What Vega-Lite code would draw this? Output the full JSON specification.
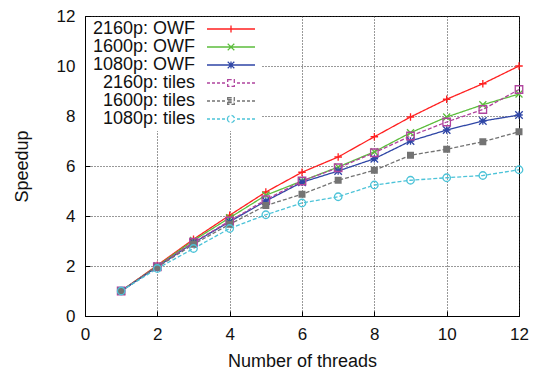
{
  "$schema": "https://vega.github.io/schema/vega-lite/v6.json",
  "width": 434,
  "height": 300,
  "autosize": {"type": "none"},
  "padding": {"left": 85, "top": 16, "right": 20, "bottom": 55},
  "config": {
    "font": "Liberation Sans",
    "view": {"stroke": "#000", "strokeWidth": 1},
    "axis": {
      "domainColor": "#000",
      "grid": true,
      "gridColor": "#333",
      "gridDash": [1, 2],
      "gridWidth": 1,
      "tickColor": "#000",
      "tickSize": -5,
      "labelFont": "Liberation Sans",
      "labelFontSize": 17,
      "labelColor": "#111",
      "labelFlush": false,
      "labelOverlap": false,
      "titleFont": "Liberation Sans",
      "titleFontSize": 18,
      "titleFontWeight": "normal",
      "titleColor": "#111"
    }
  },
  "data": {
    "values": [
      {"t": 1, "s": 1.0, "series": "2160p: OWF"},
      {"t": 2, "s": 2.03, "series": "2160p: OWF"},
      {"t": 3, "s": 3.07, "series": "2160p: OWF"},
      {"t": 4, "s": 4.03, "series": "2160p: OWF"},
      {"t": 5, "s": 4.96, "series": "2160p: OWF"},
      {"t": 6, "s": 5.75, "series": "2160p: OWF"},
      {"t": 7, "s": 6.36, "series": "2160p: OWF"},
      {"t": 8, "s": 7.17, "series": "2160p: OWF"},
      {"t": 9, "s": 7.96, "series": "2160p: OWF"},
      {"t": 10, "s": 8.67, "series": "2160p: OWF"},
      {"t": 11, "s": 9.29, "series": "2160p: OWF"},
      {"t": 12, "s": 10.0, "series": "2160p: OWF"},
      {"t": 1, "s": 1.0, "series": "1600p: OWF"},
      {"t": 2, "s": 2.0, "series": "1600p: OWF"},
      {"t": 3, "s": 3.02, "series": "1600p: OWF"},
      {"t": 4, "s": 3.93, "series": "1600p: OWF"},
      {"t": 5, "s": 4.83, "series": "1600p: OWF"},
      {"t": 6, "s": 5.4, "series": "1600p: OWF"},
      {"t": 7, "s": 5.96, "series": "1600p: OWF"},
      {"t": 8, "s": 6.57, "series": "1600p: OWF"},
      {"t": 9, "s": 7.33, "series": "1600p: OWF"},
      {"t": 10, "s": 7.96, "series": "1600p: OWF"},
      {"t": 11, "s": 8.45, "series": "1600p: OWF"},
      {"t": 12, "s": 8.88, "series": "1600p: OWF"},
      {"t": 1, "s": 1.0, "series": "1080p: OWF"},
      {"t": 2, "s": 1.97, "series": "1080p: OWF"},
      {"t": 3, "s": 2.93, "series": "1080p: OWF"},
      {"t": 4, "s": 3.77, "series": "1080p: OWF"},
      {"t": 5, "s": 4.6, "series": "1080p: OWF"},
      {"t": 6, "s": 5.35, "series": "1080p: OWF"},
      {"t": 7, "s": 5.8, "series": "1080p: OWF"},
      {"t": 8, "s": 6.29, "series": "1080p: OWF"},
      {"t": 9, "s": 7.0, "series": "1080p: OWF"},
      {"t": 10, "s": 7.44, "series": "1080p: OWF"},
      {"t": 11, "s": 7.8, "series": "1080p: OWF"},
      {"t": 12, "s": 8.04, "series": "1080p: OWF"},
      {"t": 1, "s": 1.0, "series": "2160p: tiles"},
      {"t": 2, "s": 1.97, "series": "2160p: tiles"},
      {"t": 3, "s": 2.95, "series": "2160p: tiles"},
      {"t": 4, "s": 3.8, "series": "2160p: tiles"},
      {"t": 5, "s": 4.65, "series": "2160p: tiles"},
      {"t": 6, "s": 5.4, "series": "2160p: tiles"},
      {"t": 7, "s": 5.93, "series": "2160p: tiles"},
      {"t": 8, "s": 6.53, "series": "2160p: tiles"},
      {"t": 9, "s": 7.2, "series": "2160p: tiles"},
      {"t": 10, "s": 7.76, "series": "2160p: tiles"},
      {"t": 11, "s": 8.26, "series": "2160p: tiles"},
      {"t": 12, "s": 9.06, "series": "2160p: tiles"},
      {"t": 1, "s": 1.0, "series": "1600p: tiles"},
      {"t": 2, "s": 1.95, "series": "1600p: tiles"},
      {"t": 3, "s": 2.87, "series": "1600p: tiles"},
      {"t": 4, "s": 3.67, "series": "1600p: tiles"},
      {"t": 5, "s": 4.42, "series": "1600p: tiles"},
      {"t": 6, "s": 4.87, "series": "1600p: tiles"},
      {"t": 7, "s": 5.43, "series": "1600p: tiles"},
      {"t": 8, "s": 5.83, "series": "1600p: tiles"},
      {"t": 9, "s": 6.43, "series": "1600p: tiles"},
      {"t": 10, "s": 6.67, "series": "1600p: tiles"},
      {"t": 11, "s": 6.97, "series": "1600p: tiles"},
      {"t": 12, "s": 7.37, "series": "1600p: tiles"},
      {"t": 1, "s": 1.0, "series": "1080p: tiles"},
      {"t": 2, "s": 1.9, "series": "1080p: tiles"},
      {"t": 3, "s": 2.7, "series": "1080p: tiles"},
      {"t": 4, "s": 3.5, "series": "1080p: tiles"},
      {"t": 5, "s": 4.05, "series": "1080p: tiles"},
      {"t": 6, "s": 4.52, "series": "1080p: tiles"},
      {"t": 7, "s": 4.77, "series": "1080p: tiles"},
      {"t": 8, "s": 5.24, "series": "1080p: tiles"},
      {"t": 9, "s": 5.43, "series": "1080p: tiles"},
      {"t": 10, "s": 5.53, "series": "1080p: tiles"},
      {"t": 11, "s": 5.62, "series": "1080p: tiles"},
      {"t": 12, "s": 5.85, "series": "1080p: tiles"}
    ]
  },
  "encoding": {
    "x": {
      "field": "t",
      "type": "quantitative",
      "scale": {"domain": [0, 12], "nice": false},
      "axis": {
        "title": "Number of threads",
        "values": [0, 2, 4, 6, 8, 10, 12],
        "labelPadding": 15,
        "titleY": 45,
        "titleBaseline": "middle"
      }
    },
    "y": {
      "field": "s",
      "type": "quantitative",
      "scale": {"domain": [0, 12], "nice": false},
      "axis": {
        "title": "Speedup",
        "values": [0, 2, 4, 6, 8, 10, 12],
        "labelPadding": 15,
        "titleX": -63,
        "titleY": 150,
        "titleBaseline": "middle"
      }
    },
    "color": {
      "field": "series",
      "type": "nominal",
      "scale": {
        "domain": ["2160p: OWF", "1600p: OWF", "1080p: OWF", "2160p: tiles", "1600p: tiles", "1080p: tiles"],
        "range": ["#ff2020", "#5cbd3c", "#2f46a6", "#b0449e", "#737373", "#4cc3d8"]
      },
      "legend": {
        "title": null,
        "orient": "top-left",
        "offset": 1,
        "padding": 3,
        "rowPadding": 0,
        "fillColor": "white",
        "labelFont": "Liberation Sans",
        "labelFontSize": 18,
        "labelColor": "#111",
        "labelAlign": "right",
        "labelOffset": -45,
        "symbolOffset": 133,
        "symbolSize": 36,
        "symbolStrokeWidth": 1.3,
        "symbolOpacity": 1,
        "symbolFillColor": "transparent"
      }
    }
  },
  "layer": [
    {
      "mark": {"type": "line", "strokeWidth": 1.3},
      "encoding": {
        "strokeDash": {
          "field": "series",
          "type": "nominal",
          "scale": {
            "domain": ["2160p: OWF", "1600p: OWF", "1080p: OWF", "2160p: tiles", "1600p: tiles", "1080p: tiles"],
            "range": [[1, 0], [1, 0], [1, 0], [4, 2], [4, 2], [4, 2]]
          },
          "legend": null
        }
      }
    },
    {
      "mark": {"type": "point", "filled": false, "opacity": 0},
      "encoding": {
        "shape": {
          "field": "series",
          "type": "nominal",
          "scale": {
            "domain": ["2160p: OWF", "1600p: OWF", "1080p: OWF", "2160p: tiles", "1600p: tiles", "1080p: tiles"],
            "range": [
              "M-8,0H8M0,-1.2V1.2",
              "M-8,0H8M-1.1,-1.1L1.1,1.1M-1.1,1.1L1.1,-1.1",
              "M-8,0H8M0,-1.2V1.2M-1.1,-1.1L1.1,1.1M-1.1,1.1L1.1,-1.1",
              "M-8,0H-7M-6.33,0H-5.33M-4.67,0H-3.67M-3,0H-2M2,0H3M3.67,0H4.67M5.33,0H6.33M7,0H8M-1.1,-1.1H1.1V1.1H-1.1Z",
              "M-8,0H-7M-6.33,0H-5.33M-4.67,0H-3.67M-3,0H-2M2,0H3M3.67,0H4.67M5.33,0H6.33M7,0H8M-1.1,-1.1H1.1V1.1H-1.1ZM-1.1,-0.55H1.1M-1.1,0H1.1M-1.1,0.55H1.1",
              "M-8,0H-7M-6.33,0H-5.33M-4.67,0H-3.67M-3,0H-2M2,0H3M3.67,0H4.67M5.33,0H6.33M7,0H8M-1.2,0A1.2,1.2,0,1,0,1.2,0A1.2,1.2,0,1,0,-1.2,0"
            ]
          }
        }
      }
    },
    {
      "transform": [{"filter": "datum.series === '2160p: OWF'"}],
      "mark": {"type": "point", "filled": false, "size": 56, "strokeWidth": 1.3, "opacity": 1, "shape": "M0,-1V1M-1,0H1"}
    },
    {
      "transform": [{"filter": "datum.series === '1600p: OWF'"}],
      "mark": {"type": "point", "filled": false, "size": 49, "strokeWidth": 1.3, "opacity": 1, "shape": "M-1,-1L1,1M-1,1L1,-1"}
    },
    {
      "transform": [{"filter": "datum.series === '1080p: OWF'"}],
      "mark": {"type": "point", "filled": false, "size": 56, "strokeWidth": 1.3, "opacity": 1, "shape": "M0,-1V1M-1,0H1M-1,-1L1,1M-1,1L1,-1"}
    },
    {
      "transform": [{"filter": "datum.series === '2160p: tiles'"}],
      "mark": {"type": "point", "filled": false, "size": 56, "strokeWidth": 1.3, "opacity": 1, "shape": "M-1,-1H1V1H-1Z"}
    },
    {
      "transform": [{"filter": "datum.series === '1600p: tiles'"}],
      "mark": {"type": "point", "filled": true, "size": 49, "opacity": 1, "shape": "square"},
      "encoding": {"color": {"value": "#737373"}}
    },
    {
      "transform": [{"filter": "datum.series === '1080p: tiles'"}],
      "mark": {"type": "point", "filled": false, "size": 56, "strokeWidth": 1.3, "opacity": 1, "shape": "circle"}
    }
  ]
}
